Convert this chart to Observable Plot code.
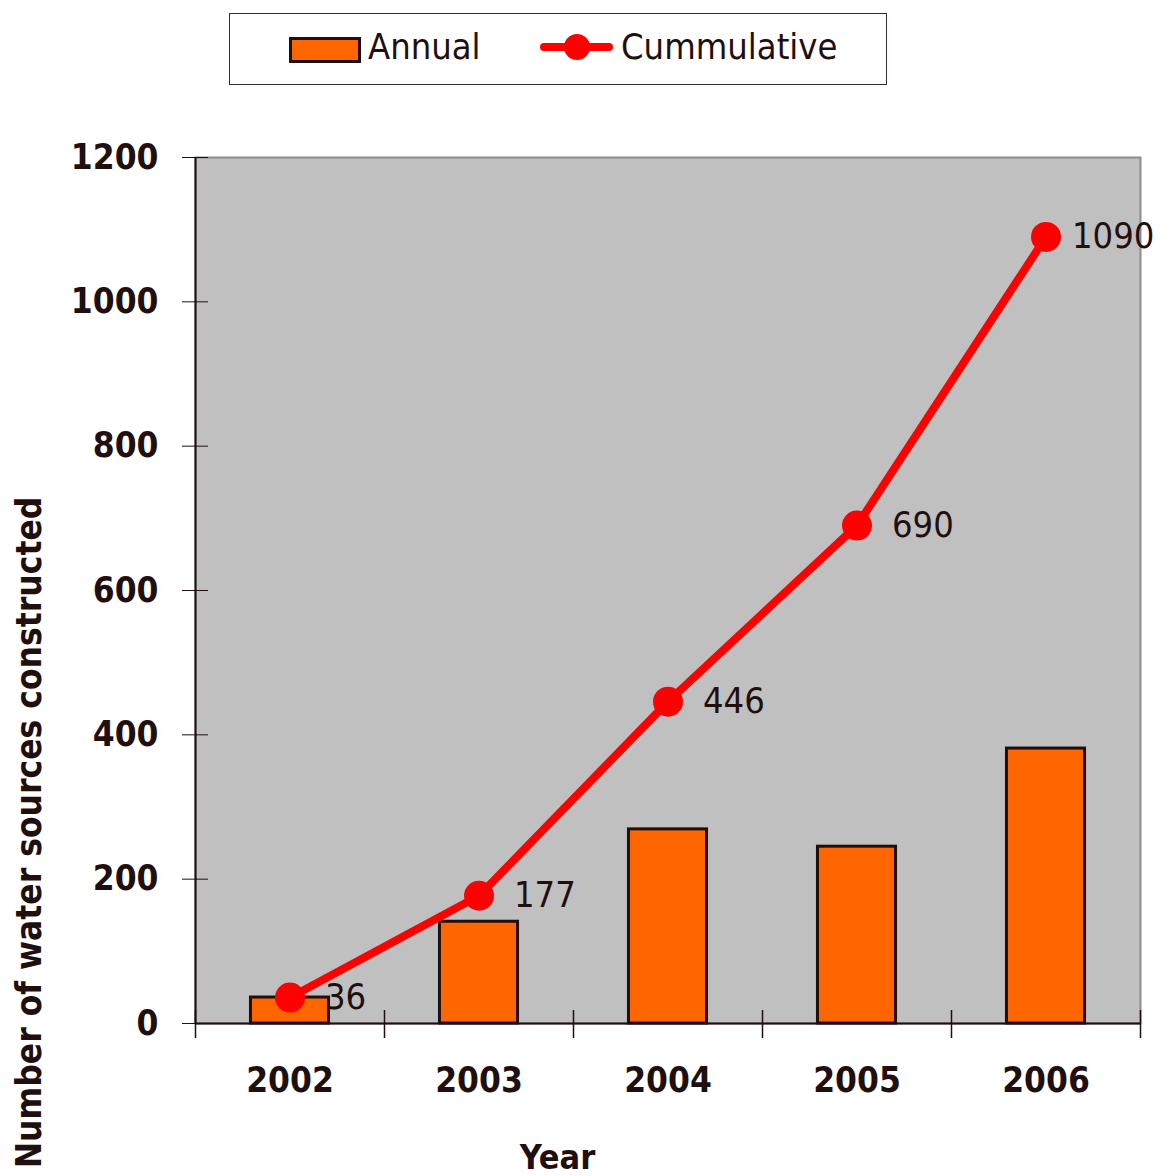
<!DOCTYPE html>
<html><head><meta charset="utf-8">
<script src="https://cdn.jsdelivr.net/npm/d3@7"></script>
<script src="https://cdn.jsdelivr.net/npm/@observablehq/plot@0.6"></script>
<style>
body{margin:0;background:#fff;font-family:"DejaVu Sans Condensed","DejaVu Sans",sans-serif;color:#1f0f0f}
#legend{position:relative;width:1162px;height:100px}
#box{position:absolute;left:229px;top:13px;width:656px;height:70px;border:1.5px solid #3a2a2a}
.sw{position:absolute;left:289px;top:37px;width:66px;height:20px;background:#ff6600;border:3px solid #1f0f0f}
.ln{position:absolute;left:540px;top:43px;width:73px;height:8px;background:#ff0000;border-radius:4px}
.dt{position:absolute;left:564px;top:34px;width:26px;height:26px;background:#ff0000;border-radius:50%}
.lt{position:absolute;top:29px;font-size:36px;line-height:36px;white-space:nowrap}
</style></head>
<body>
<div id="legend">
  <div id="box"></div>
  <div class="sw"></div><span class="lt" style="left:368px">Annual</span>
  <div class="ln"></div><div class="dt"></div><span class="lt" style="left:621px">Cummulative</span>
</div>
<div id="chart"></div>
<script>
const years = ["2002", "2003", "2004", "2005", "2006"];
const annual = [36, 141, 269, 245, 381];
const cumulative = [36, 177, 446, 690, 1090];
const yTicks = [0, 200, 400, 600, 800, 1000, 1200];
const yTitle = "Number of water sources constructed";
const xTitle = "Year";

const data = years.map((y, i) => ({year: y, annual: annual[i], cumulative: cumulative[i]}));
const last = data.length - 1;

const W = 1162, H = 1076, ML = 195, MR = 22, MT = 57, MB = 153;
const TOP = 100; // legend height above the svg
const step = (W - ML - MR) / years.length;
const dark = "#1f0f0f";
const pad = 0.587;
const labelStyle = {x: "year", y: "cumulative", text: d => String(d.cumulative), textAnchor: "start", fontSize: 36, fill: dark};

const chart = Plot.plot({
  width: W, height: H,
  marginLeft: ML, marginRight: MR, marginTop: MT, marginBottom: MB,
  style: {fontFamily: '"DejaVu Sans Condensed","DejaVu Sans",sans-serif', color: dark, background: "#fff"},
  x: {type: "band", domain: years, paddingInner: pad, paddingOuter: pad / 2, round: false, label: null},
  y: {domain: [0, 1200], label: null},
  marks: [
    Plot.frame({fill: "#c0c0c0", stroke: "#8c8c8c", strokeWidth: 2}),
    Plot.ruleX([years[0]], {x: d => d, dx: -step / 2, stroke: dark, strokeWidth: 2}),
    Plot.ruleY([0], {stroke: dark, strokeWidth: 2}),
    Plot.ruleX(years, {x: d => d, dx: -step / 2, y1: 0, y2: 0, insetTop: -13, insetBottom: -15, stroke: dark, strokeWidth: 1.5}),
    Plot.ruleX([years[last]], {x: d => d, dx: step / 2, y1: 0, y2: 0, insetTop: -13, insetBottom: -15, stroke: dark, strokeWidth: 1.5}),
    Plot.barY(data, {x: "year", y: "annual", fill: "#ff6600", stroke: dark, strokeWidth: 3}),
    Plot.lineY(data, {x: "year", y: "cumulative", stroke: "#ff0000", strokeWidth: 8}),
    Plot.dot(data, {x: "year", y: "cumulative", r: 15, fill: "#ff0000"}),
    Plot.text(data.slice(0, last), {...labelStyle, dx: 35}),
    Plot.text(data.slice(last), {...labelStyle, dx: 26}),
    Plot.axisY({ticks: yTicks, tickSize: 13, tickPadding: 24, tickFormat: d => String(d), fontSize: 35, fontWeight: "bold", label: null, stroke: dark}),
    Plot.axisY({ticks: yTicks, tickSize: 13, dx: 13, tickFormat: () => "", label: null, stroke: dark}),
    Plot.axisX({tickSize: 0, tickPadding: 44, fontSize: 35, fontWeight: "bold", label: null}),
    Plot.text([yTitle], {text: d => d, frameAnchor: "bottom-left", textAnchor: "middle", rotate: -90, dx: 40 - ML, dy: (832 - TOP) - (H - MB), fontSize: 35, fontWeight: "bold", fill: dark}),
    Plot.text([xTitle], {text: d => d, frameAnchor: "bottom-left", textAnchor: "middle", dx: 557 - ML, dy: (1168 - TOP) - (H - MB), fontSize: 34, fontWeight: "bold", fill: dark})
  ]
});
document.getElementById("chart").appendChild(chart);
</script>
</body></html>
